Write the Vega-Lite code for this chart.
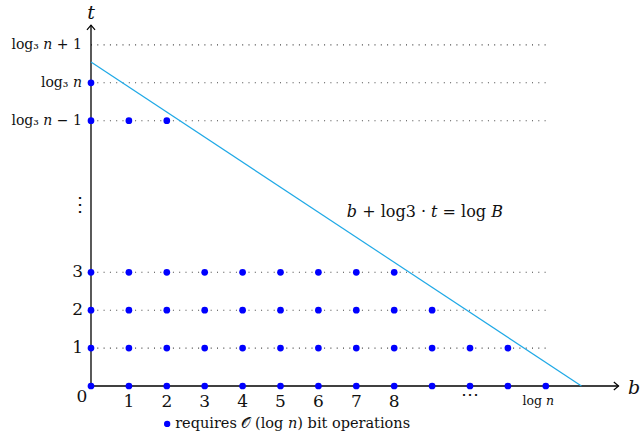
{
  "$schema": "https://vega.github.io/schema/vega-lite/v6.json",
  "width": 641,
  "height": 440,
  "autosize": {"type": "none"},
  "padding": 0,
  "background": "white",
  "config": {"view": {"stroke": null}, "text": {"font": "DejaVu Serif", "color": "#111"}},
  "datasets": {
    "pts": [
      {"b": 0, "t": 0}, {"b": 1, "t": 0}, {"b": 2, "t": 0}, {"b": 3, "t": 0}, {"b": 4, "t": 0}, {"b": 5, "t": 0}, {"b": 6, "t": 0}, {"b": 7, "t": 0}, {"b": 8, "t": 0}, {"b": 9, "t": 0}, {"b": 10, "t": 0}, {"b": 11, "t": 0}, {"b": 12, "t": 0},
      {"b": 0, "t": 1}, {"b": 1, "t": 1}, {"b": 2, "t": 1}, {"b": 3, "t": 1}, {"b": 4, "t": 1}, {"b": 5, "t": 1}, {"b": 6, "t": 1}, {"b": 7, "t": 1}, {"b": 8, "t": 1}, {"b": 9, "t": 1}, {"b": 10, "t": 1}, {"b": 11, "t": 1},
      {"b": 0, "t": 2}, {"b": 1, "t": 2}, {"b": 2, "t": 2}, {"b": 3, "t": 2}, {"b": 4, "t": 2}, {"b": 5, "t": 2}, {"b": 6, "t": 2}, {"b": 7, "t": 2}, {"b": 8, "t": 2}, {"b": 9, "t": 2},
      {"b": 0, "t": 3}, {"b": 1, "t": 3}, {"b": 2, "t": 3}, {"b": 3, "t": 3}, {"b": 4, "t": 3}, {"b": 5, "t": 3}, {"b": 6, "t": 3}, {"b": 7, "t": 3}, {"b": 8, "t": 3},
      {"b": 0, "t": 7}, {"b": 1, "t": 7}, {"b": 2, "t": 7},
      {"b": 0, "t": 8}
    ],
    "grid": [
      {"b": 0, "b2": 12, "t": 1}, {"b": 0, "b2": 12, "t": 2}, {"b": 0, "b2": 12, "t": 3},
      {"b": 0, "b2": 12, "t": 7}, {"b": 0, "b2": 12, "t": 8}, {"b": 0, "b2": 12, "t": 9}
    ],
    "bound": [{"b": 0, "t": 8.55}, {"b": 12.94, "t": 0}],
    "xaxis": [{"b": 0, "b2": 13.92, "t": 0}],
    "yaxis": [{"b": 0, "t": 0, "t2": 9.52}],
    "xarrow": [{"b": 13.92, "t": 0}],
    "yarrow": [{"b": 0, "t": 9.52}],
    "xticks": [
      {"b": 1, "t": -0.41, "label": "1"}, {"b": 2, "t": -0.41, "label": "2"}, {"b": 3, "t": -0.41, "label": "3"}, {"b": 4, "t": -0.41, "label": "4"},
      {"b": 5, "t": -0.41, "label": "5"}, {"b": 6, "t": -0.41, "label": "6"}, {"b": 7, "t": -0.41, "label": "7"}, {"b": 8, "t": -0.41, "label": "8"},
      {"b": -0.24, "t": -0.3, "label": "0"}
    ],
    "yticks": [
      {"b": -0.21, "t": 1, "label": "1"}, {"b": -0.21, "t": 2, "label": "2"}, {"b": -0.21, "t": 3, "label": "3"}
    ],
    "logticks": [
      {"b": -0.24, "t": 9, "label": "log₃ 𝑛 + 1"},
      {"b": -0.24, "t": 8, "label": "log₃ 𝑛"},
      {"b": -0.24, "t": 7, "label": "log₃ 𝑛 − 1"}
    ],
    "logn": [{"b": 11.8, "t": -0.4, "label": "log 𝑛"}],
    "hdots": [{"b": 10, "t": -0.24, "label": "⋯"}],
    "vdots": [{"b": -0.29, "t": 4.78, "label": "⋮"}],
    "axlabels": [{"b": 0, "t": 9.84, "label": "t"}, {"b": 14.33, "t": -0.05, "label": "b"}],
    "eq": [{"b": 8.81, "t": 4.59, "label": "𝑏 + log3 · 𝑡 = log 𝐵"}],
    "legdot": [{"b": 2.01, "t": -1.0}],
    "legtext": [{"b": 2.22, "t": -1.0, "label": "requires 𝒪 (log 𝑛) bit operations"}]
  },
  "encoding": {
    "x": {"field": "b", "type": "quantitative", "scale": {"domain": [-2.401, 14.512], "nice": false, "zero": false}, "axis": null},
    "y": {"field": "t", "type": "quantitative", "scale": {"domain": [-1.425, 10.185], "nice": false, "zero": false}, "axis": null}
  },
  "layer": [
    {"data": {"name": "grid"}, "mark": {"type": "rule", "color": "#444", "strokeWidth": 1.1, "strokeDash": [1, 5.3]},
     "encoding": {"x2": {"field": "b2"}}},
    {"data": {"name": "xaxis"}, "mark": {"type": "rule", "color": "#000", "strokeWidth": 1.3},
     "encoding": {"x2": {"field": "b2"}}},
    {"data": {"name": "yaxis"}, "mark": {"type": "rule", "color": "#000", "strokeWidth": 1.3},
     "encoding": {"y2": {"field": "t2"}}},
    {"data": {"name": "xarrow"}, "mark": {"type": "point", "shape": "M -1 -0.85 L 0 0 L -1 0.85", "size": 90, "filled": false, "stroke": "#000", "strokeWidth": 1.2, "opacity": 1}},
    {"data": {"name": "yarrow"}, "mark": {"type": "point", "shape": "M -0.85 1 L 0 0 L 0.85 1", "size": 90, "filled": false, "stroke": "#000", "strokeWidth": 1.2, "opacity": 1}},
    {"data": {"name": "bound"}, "mark": {"type": "line", "color": "#1fa9e6", "strokeWidth": 1.2}},
    {"data": {"name": "pts"}, "mark": {"type": "circle", "color": "#0000ff", "size": 45, "opacity": 1}},
    {"data": {"name": "xticks"}, "mark": {"type": "text", "fontSize": 17, "align": "center", "baseline": "middle"},
     "encoding": {"text": {"field": "label"}}},
    {"data": {"name": "yticks"}, "mark": {"type": "text", "fontSize": 17, "align": "right", "baseline": "middle"},
     "encoding": {"text": {"field": "label"}}},
    {"data": {"name": "logticks"}, "mark": {"type": "text", "fontSize": 14, "align": "right", "baseline": "middle"},
     "encoding": {"text": {"field": "label"}}},
    {"data": {"name": "logn"}, "mark": {"type": "text", "fontSize": 12.5, "align": "center", "baseline": "middle"},
     "encoding": {"text": {"field": "label"}}},
    {"data": {"name": "hdots"}, "mark": {"type": "text", "fontSize": 18, "align": "center", "baseline": "middle"},
     "encoding": {"text": {"field": "label"}}},
    {"data": {"name": "vdots"}, "mark": {"type": "text", "fontSize": 20, "align": "center", "baseline": "middle"},
     "encoding": {"text": {"field": "label"}}},
    {"data": {"name": "axlabels"}, "mark": {"type": "text", "fontSize": 19, "fontStyle": "italic", "align": "center", "baseline": "middle"},
     "encoding": {"text": {"field": "label"}}},
    {"data": {"name": "eq"}, "mark": {"type": "text", "fontSize": 16, "align": "center", "baseline": "middle"},
     "encoding": {"text": {"field": "label"}}},
    {"data": {"name": "legdot"}, "mark": {"type": "circle", "color": "#0000ff", "size": 40, "opacity": 1}},
    {"data": {"name": "legtext"}, "mark": {"type": "text", "fontSize": 14.5, "align": "left", "baseline": "middle"},
     "encoding": {"text": {"field": "label"}}}
  ]
}
